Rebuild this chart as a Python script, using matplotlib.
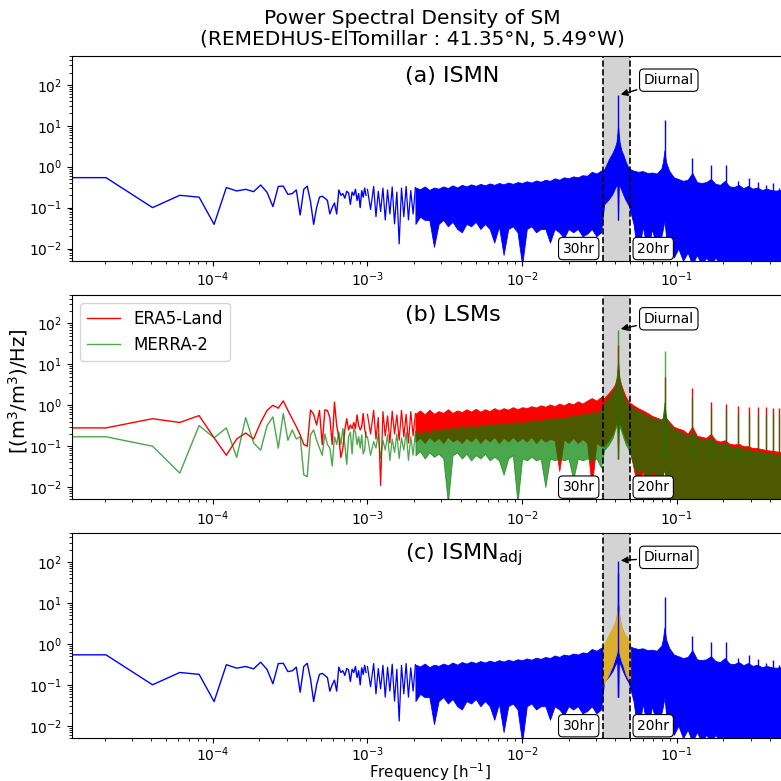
import numpy as np
import matplotlib.pyplot as plt

# ---------------- data ----------------
DF = 2.04e-5  # spectral resolution [1/h]; low-frequency estimates at k*DF, k = 0..48

ismn_low = [0.54, 0.54, 0.10, 0.20, 0.18, 0.039, 0.31, 0.255, 0.28, 0.245,
            0.357, 0.236, 0.106, 0.33, 0.335, 0.21, 0.22, 0.27, 0.066, 0.28,
            0.335, 0.14, 0.039, 0.10, 0.18, 0.19, 0.17, 0.15, 0.07, 0.10,
            0.13, 0.07, 0.27, 0.20, 0.22, 0.17, 0.25, 0.23, 0.12, 0.24,
            0.20, 0.28, 0.15, 0.22, 0.10, 0.26, 0.18, 0.30, 0.20]
era5_low = [0.28, 0.28, 0.47, 0.38, 0.56, 0.16, 0.06, 0.15, 0.21, 0.15,
            0.38, 0.75, 1.0, 0.85, 1.28, 0.75, 0.47, 0.30, 0.19, 0.11,
            0.10, 0.77, 0.60, 0.33, 0.75, 0.11, 0.77, 0.75, 0.50, 0.11,
            1.20, 0.32, 0.17, 0.053, 0.09, 0.25, 0.47, 0.25, 0.33, 0.27,
            0.38, 0.27, 0.58, 0.32, 0.25, 0.30, 0.63, 0.27, 0.17]
merra_low = [0.17, 0.17, 0.10, 0.022, 0.32, 0.16, 0.28, 0.053, 0.50, 0.12,
             0.08, 0.32, 0.52, 0.09, 0.63, 0.14, 0.25, 0.15, 0.17, 0.02,
             0.018, 0.19, 0.25, 0.14, 0.09, 0.06, 0.20, 0.11, 0.09, 0.033,
             0.17, 0.11, 0.22, 0.11, 0.27, 0.11, 0.036, 0.17, 0.22, 0.065,
             0.27, 0.22, 0.11, 0.17, 0.09, 0.19, 0.065, 0.08, 0.22]

# dense part of the spectra: local maxima / minima read at log10(frequency)
env_logf = [-3.00, -2.96, -2.93, -2.90, -2.87, -2.84, -2.81, -2.78, -2.75, -2.72,
            -2.69, -2.66, -2.63, -2.60, -2.57, -2.54, -2.51, -2.48, -2.45, -2.42,
            -2.39, -2.36, -2.33, -2.30, -2.27, -2.24, -2.21, -2.18, -2.15, -2.12,
            -2.09, -2.06, -2.03, -2.00,
            -1.97, -1.94, -1.91, -1.88, -1.85, -1.82, -1.79, -1.76, -1.73, -1.70,
            -1.67, -1.64, -1.61, -1.58, -1.55, -1.52, -1.49,
            -1.47, -1.44, -1.415, -1.40, -1.39, -1.385, -1.38, -1.375, -1.37, -1.36,
            -1.345, -1.33, -1.31,
            -1.28, -1.25, -1.22, -1.19, -1.16, -1.13, -1.10, -1.09, -1.08, -1.07,
            -1.05, -1.02, -0.99, -0.96, -0.93, -0.90, -0.87, -0.84, -0.81, -0.78,
            -0.75, -0.72, -0.69, -0.66, -0.63, -0.60, -0.57, -0.54, -0.51, -0.48,
            -0.45, -0.42, -0.39, -0.36, -0.33, -0.30]

ismn_hi = [0.28, 0.33, 0.25, 0.30, 0.27, 0.32, 0.24, 0.30, 0.33, 0.26,
           0.31, 0.28, 0.33, 0.27, 0.31, 0.29, 0.33, 0.30, 0.35, 0.31,
           0.36, 0.33, 0.37, 0.34, 0.38, 0.35, 0.39, 0.36, 0.40, 0.37,
           0.41, 0.38, 0.42, 0.40,
           0.44, 0.41, 0.46, 0.43, 0.48, 0.45, 0.52, 0.48, 0.55, 0.52,
           0.58, 0.55, 0.62, 0.60, 0.75, 0.68, 0.80,
           0.85, 1.5, 2.2, 3.0, 4.0, 6.0, 10.0, 6.0, 4.0, 2.6,
           1.9, 1.3, 0.9,
           0.80, 0.75, 0.78, 0.70, 0.72, 0.68, 0.90, 1.3, 2.5, 1.3,
           0.80, 0.55, 0.50, 0.45, 0.48, 0.70, 0.42, 0.40, 0.42, 0.50,
           0.38, 0.36, 0.45, 0.33, 0.32, 0.36, 0.30, 0.34, 0.29, 0.31,
           0.27, 0.29, 0.27, 0.26, 0.27, 0.25]
ismn_lo = [0.09, 0.06, 0.08, 0.05, 0.07, 0.04, 0.013, 0.06, 0.05, 0.07,
           0.04, 0.06, 0.05, 0.05, 0.011, 0.04, 0.05, 0.035, 0.045, 0.03,
           0.025, 0.04, 0.035, 0.045, 0.03, 0.04, 0.03, 0.014, 0.035, 0.007,
           0.03, 0.035, 0.025, 0.004,
           0.03, 0.035, 0.025, 0.03, 0.03, 0.014, 0.03, 0.025, 0.018, 0.03,
           0.025, 0.03, 0.02, 0.023, 0.03, 0.02, 0.025,
           0.12, 0.16, 0.22, 0.30, 0.35, 0.38, 0.05, 0.38, 0.34, 0.28,
           0.20, 0.15, 0.11,
           0.04, 0.006, 0.035, 0.008, 0.03, 0.01, 0.02, 0.03, 0.05, 0.02,
           0.012, 0.006, 0.01, 0.005, 0.008, 0.004, 0.007, 0.004, 0.006, 0.004,
           0.006, 0.004, 0.005, 0.004, 0.005, 0.004, 0.005, 0.004, 0.005, 0.004,
           0.005, 0.004, 0.004, 0.004, 0.004, 0.004]

era5_hi = [0.60, 0.75, 0.50, 0.70, 0.55, 0.72, 0.58, 0.75, 0.60, 0.70,
           0.62, 0.75, 0.60, 0.78, 0.62, 0.72, 0.65, 0.80, 0.65, 0.75,
           0.68, 0.80, 0.70, 0.82, 0.70, 0.80, 0.72, 0.85, 0.75, 0.85,
           0.78, 0.90, 0.80, 0.90,
           0.85, 0.95, 0.88, 1.0, 0.92, 1.05, 0.95, 1.1, 1.0, 1.15,
           1.05, 1.25, 1.1, 1.3, 1.5, 1.3, 1.6,
           1.5, 2.0, 2.6, 3.2, 4.5, 6.5, 12.0, 6.5, 4.5, 3.2,
           2.2, 1.6, 1.2,
           1.0, 0.85, 0.75, 0.65, 0.55, 0.50, 0.45, 0.50, 0.90, 0.50,
           0.40, 0.30, 0.27, 0.25, 0.20, 0.30, 0.18, 0.17, 0.16, 0.20,
           0.14, 0.13, 0.14, 0.115, 0.11, 0.115, 0.10, 0.10, 0.09, 0.09,
           0.085, 0.08, 0.078, 0.075, 0.072, 0.07]
era5_lo = [0.20, 0.15, 0.011, 0.18, 0.12, 0.20, 0.14, 0.17, 0.12, 0.18,
           0.13, 0.16, 0.12, 0.17, 0.13, 0.16, 0.12, 0.17, 0.13, 0.15,
           0.12, 0.16, 0.13, 0.17, 0.12, 0.16, 0.13, 0.17, 0.12, 0.16,
           0.13, 0.17, 0.13, 0.16,
           0.13, 0.17, 0.12, 0.16, 0.13, 0.15, 0.14, 0.025, 0.15, 0.12,
           0.16, 0.12, 0.15, 0.12, 0.01, 0.12, 0.10,
           0.10, 0.14, 0.20, 0.30, 0.40, 0.45, 0.06, 0.45, 0.38, 0.30,
           0.20, 0.14, 0.10,
           0.03, 0.008, 0.025, 0.006, 0.02, 0.007, 0.015, 0.02, 0.03, 0.01,
           0.006, 0.005, 0.004, 0.004, 0.004, 0.004, 0.004, 0.004, 0.004, 0.004,
           0.004, 0.004, 0.004, 0.004, 0.004, 0.004, 0.004, 0.004, 0.004, 0.004,
           0.004, 0.004, 0.004, 0.004, 0.004, 0.004]

merra_hi = [0.17, 0.13, 0.20, 0.14, 0.19, 0.15, 0.20, 0.16, 0.22, 0.17,
            0.23, 0.19, 0.25, 0.20, 0.27, 0.22, 0.28, 0.24, 0.30, 0.26,
            0.32, 0.27, 0.33, 0.28, 0.34, 0.30, 0.36, 0.31, 0.37, 0.33,
            0.38, 0.34, 0.40, 0.36,
            0.42, 0.38, 0.45, 0.40, 0.47, 0.43, 0.50, 0.46, 0.53, 0.50,
            0.57, 0.53, 0.62, 0.58, 0.68, 0.65, 0.75,
            1.1, 1.6, 2.2, 2.8, 4.0, 6.0, 12.0, 6.0, 4.0, 2.8,
            1.8, 1.3, 1.0,
            0.85, 0.72, 0.65, 0.55, 0.50, 0.45, 0.42, 0.50, 1.2, 0.50,
            0.35, 0.27, 0.24, 0.21, 0.18, 0.22, 0.16, 0.15, 0.14, 0.16,
            0.12, 0.11, 0.12, 0.10, 0.095, 0.095, 0.085, 0.082, 0.075, 0.073,
            0.07, 0.066, 0.064, 0.062, 0.06, 0.058]
merra_lo = [0.06, 0.09, 0.05, 0.08, 0.045, 0.07, 0.05, 0.08, 0.045, 0.06,
            0.06, 0.075, 0.05, 0.07, 0.055, 0.065, 0.05, 0.004, 0.06, 0.07,
            0.05, 0.065, 0.045, 0.06, 0.05, 0.065, 0.045, 0.055, 0.045, 0.02,
            0.05, 0.06, 0.004, 0.05,
            0.045, 0.055, 0.045, 0.05, 0.01, 0.05, 0.045, 0.05, 0.045, 0.05,
            0.015, 0.05, 0.045, 0.05, 0.045, 0.05, 0.03,
            0.08, 0.11, 0.16, 0.25, 0.32, 0.38, 0.05, 0.38, 0.30, 0.24,
            0.16, 0.11, 0.08,
            0.035, 0.02, 0.03, 0.012, 0.025, 0.02, 0.015, 0.02, 0.03, 0.006,
            0.004, 0.004, 0.004, 0.004, 0.004, 0.004, 0.004, 0.004, 0.004, 0.004,
            0.004, 0.004, 0.004, 0.004, 0.004, 0.004, 0.004, 0.004, 0.004, 0.004,
            0.004, 0.004, 0.004, 0.004, 0.004, 0.004]

# harmonics of the diurnal cycle (1/24 ... 11/24 h^-1) and spike tops
harm_f = [0.041667, 0.083333, 0.125, 0.166667, 0.208333, 0.25,
          0.291667, 0.333333, 0.375, 0.416667, 0.458333]
ismn_peak = [55, 14, 1.6, 1.1, 1.1, 0.45, 0.52, 0.42, 0.35, 0.40, 0.30]
adj_peak = [108, 14, 1.6, 1.1, 1.1, 0.45, 0.52, 0.42, 0.35, 0.40, 0.30]
era5_peak = [30, 5.0, 2.6, 1.2, 1.1, 0.97, 0.90, 0.90, 0.90, 0.88, 0.85]
merra_peak = [71, 21, 1.6, 0.9, 0.8, 0.65, 0.60, 0.60, 0.60, 0.60, 0.55]

# diurnal component retained in ISMN_adj (panel c, gold)
gold_logf = [-1.477, -1.47, -1.44, -1.415, -1.40, -1.39, -1.385, -1.38,
             -1.375, -1.37, -1.36, -1.345, -1.33, -1.31, -1.301]
gold_hi = [0.9, 1.0, 1.7, 2.6, 3.5, 5.0, 6.5, 8.6, 6.0, 4.5, 3.0, 2.0, 1.6, 1.3, 1.2]
gold_lo = [0.10, 0.11, 0.18, 0.30, 0.45, 0.60, 0.70, 0.80, 0.70, 0.55, 0.40, 0.28, 0.18, 0.13, 0.12]

band_hr = [30, 20]
panel_labels = ['(a) ISMN', '(b) LSMs', r'(c) ISMN$_{\mathrm{adj}}$']
SOLID_FROM = 2e-3   # above this frequency the dense spectrum renders as a solid band

# ---------------- drawing ----------------
lf = np.array(env_logf)
f_env = 10 ** lf
f_mid = 10 ** ((lf[:-1] + lf[1:]) / 2)
n0 = int(np.argmax(f_env >= SOLID_FROM))


def draw_spectrum(ax, low, hi, lo, peak, color, alpha=1.0, label=None, z=2.0):
    f_low = np.arange(len(low)) * DF
    ax.plot(f_low, low, color=color, lw=1.0, alpha=alpha, label=label, zorder=z)
    # sparse part of the dense spectrum: line through local maxima and minima
    xs = np.empty(2 * n0 + 1)
    ys = np.empty(2 * n0 + 1)
    xs[0::2], xs[1::2] = f_env[:n0 + 1], f_mid[:n0]
    ys[0::2], ys[1::2] = hi[:n0 + 1], lo[:n0]
    ax.plot(xs, ys, color=color, lw=0.9, alpha=alpha, zorder=z)
    # solid band where samples are denser than the pixels
    ax.fill_between(f_env[n0:], lo[n0:], hi[n0:], facecolor=color,
                    edgecolor=color, lw=0.6, alpha=alpha, zorder=z)
    ax.vlines(harm_f, 0.05, peak, colors=color, lw=1.0, alpha=alpha, zorder=z)


fig = plt.figure(figsize=(7.81, 7.81), dpi=100)
L, W, H = 72 / 781, 747 / 781, 0.262
bottoms = [0.666, 0.3605, 0.055]
axes = [fig.add_axes([L, b, W, H]) for b in bottoms]

for i, ax in enumerate(axes):
    ax.set_xscale('log')
    ax.set_yscale('log')
    ax.set_xlim(1.23e-5, 0.83)
    ax.set_ylim(5e-3, 5e2)
    ax.axvspan(1 / band_hr[0], 1 / band_hr[1], color='lightgray', lw=0, zorder=0)
    for h in band_hr:
        ax.axvline(1 / h, color='k', ls='--', lw=1.2, zorder=5)
    ax.annotate('30hr', xy=(1 / band_hr[0], 0.01), xytext=(-6, 0),
                textcoords='offset points', ha='right', va='center', fontsize=10,
                bbox=dict(boxstyle='round,pad=0.3', fc='white', ec='k', lw=0.8), zorder=6)
    ax.annotate('20hr', xy=(1 / band_hr[1], 0.01), xytext=(5, 0),
                textcoords='offset points', ha='left', va='center', fontsize=10,
                bbox=dict(boxstyle='round,pad=0.3', fc='white', ec='k', lw=0.8), zorder=6)
    ax.text((405 - 72) / 747, 1 - 26 / 204.7, panel_labels[i], transform=ax.transAxes,
            ha='left', va='baseline', fontsize=16)

# (a) ISMN
draw_spectrum(axes[0], ismn_low, ismn_hi, ismn_lo, ismn_peak, 'blue')
# (b) LSMs
draw_spectrum(axes[1], era5_low, era5_hi, era5_lo, era5_peak, 'red', label='ERA5-Land', z=2.0)
draw_spectrum(axes[1], merra_low, merra_hi, merra_lo, merra_peak, 'green', alpha=0.7,
              label='MERRA-2', z=2.2)
axes[1].legend(loc='upper left', fontsize=12)
# (c) ISMN adj
draw_spectrum(axes[2], ismn_low, ismn_hi, ismn_lo, ismn_peak, 'blue')
axes[2].fill_between(10 ** np.array(gold_logf), gold_lo, gold_hi, facecolor='#DCAE30',
                     edgecolor='#DCAE30', lw=0.5, zorder=3)
axes[2].vlines(harm_f[0], 0.05, adj_peak[0], colors='blue', lw=1.0, zorder=3.5)

tips = [ismn_peak[0], merra_peak[0], adj_peak[0]]
for ax, tip in zip(axes, tips):
    ax.annotate('Diurnal', xy=(harm_f[0], tip), xytext=(0.0887, 130),
                ha='center', va='center', fontsize=10,
                bbox=dict(boxstyle='round,pad=0.3', fc='white', ec='k', lw=0.8),
                arrowprops=dict(arrowstyle='-|>', color='k', lw=1), zorder=7)

axes[1].set_ylabel('[(m$^3$/m$^3$)/Hz]', fontsize=14)
axes[1].yaxis.set_label_coords(-0.056, 0.53)
axes[2].tick_params(axis='x', which='major', pad=2)
axes[2].set_xlabel('Frequency [h$^{-1}$]', fontsize=10.8)
axes[2].xaxis.set_label_coords((430 - 72) / 747, -0.116)

fig.text(0.528, 0.988, 'Power Spectral Density of SM\n(REMEDHUS-ElTomillar : 41.35°N, 5.49°W)',
         ha='center', va='top', fontsize=14.5, linespacing=1.1)

fig.savefig('out.png', dpi=100)
